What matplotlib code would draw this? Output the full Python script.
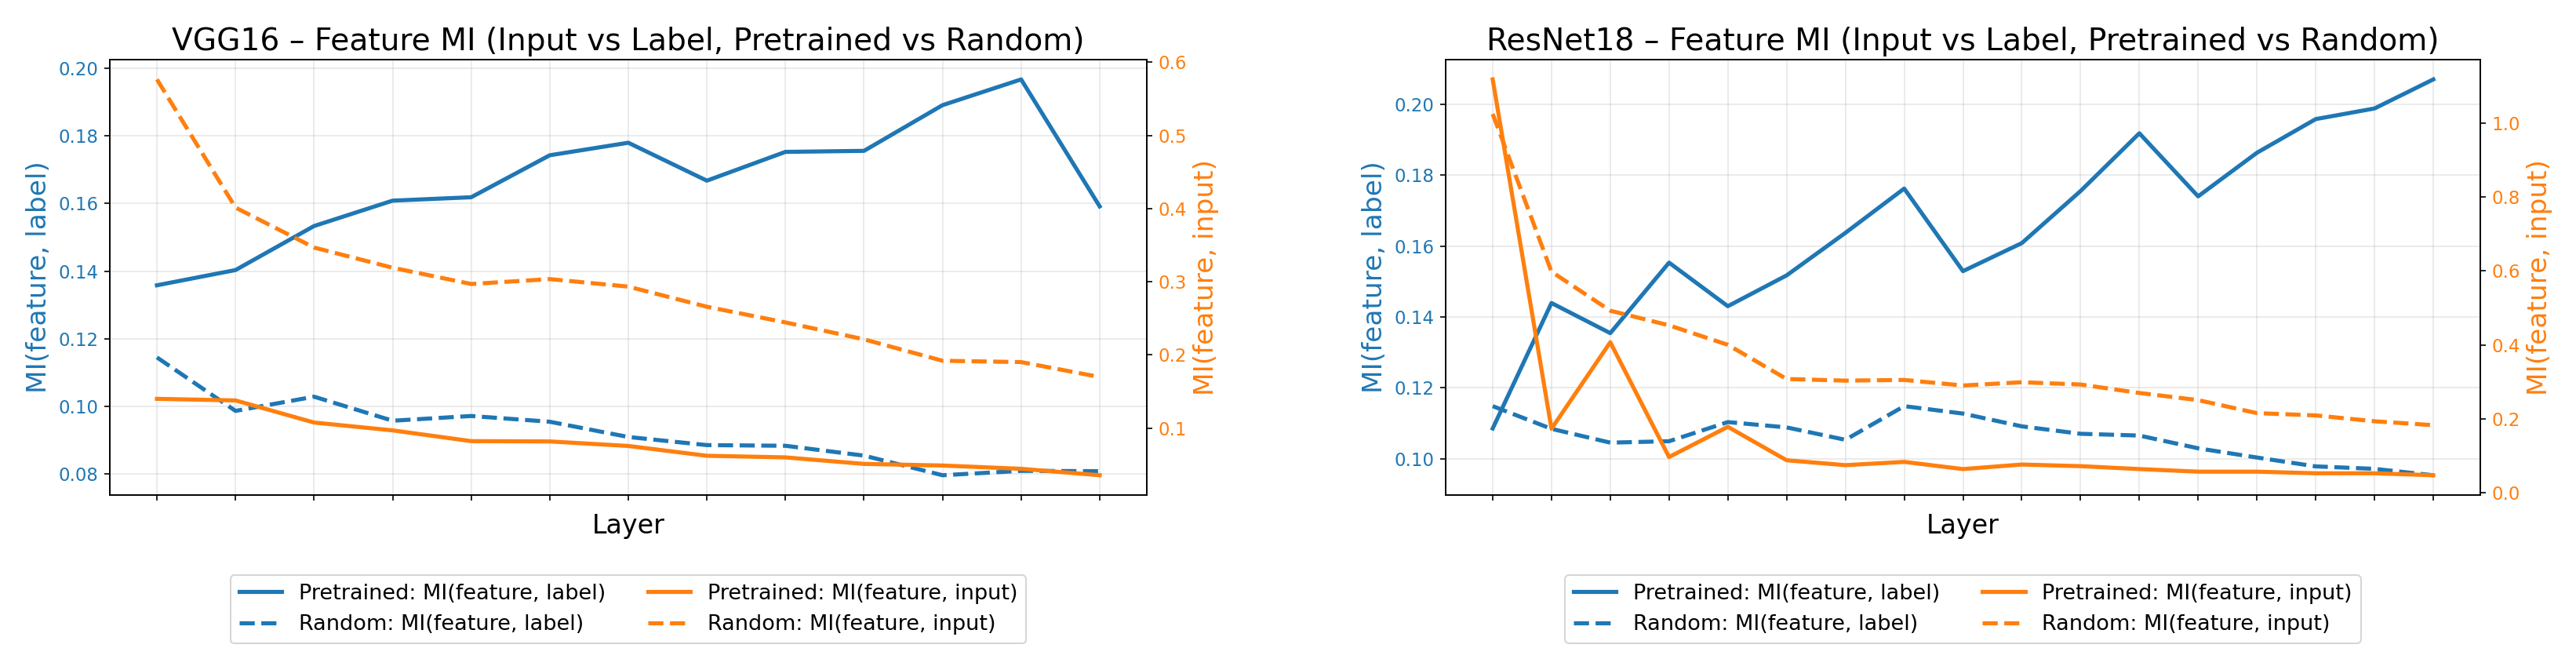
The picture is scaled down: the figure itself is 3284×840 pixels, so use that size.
import numpy as np
import matplotlib
matplotlib.use('Agg')
import matplotlib.pyplot as plt

# VGG16 (13 layers)
vgg_pre_label = [0.1358, 0.1403, 0.1533, 0.1608, 0.1618, 0.1742, 0.1779,
                 0.1667, 0.1752, 0.1755, 0.1890, 0.1966, 0.1591]
vgg_rand_label = [0.1145, 0.0987, 0.1029, 0.0958, 0.0972, 0.0955, 0.0910,
                  0.0886, 0.0884, 0.0855, 0.0797, 0.0810, 0.0809]
vgg_pre_input = [0.140, 0.1378, 0.1076, 0.0969, 0.0822, 0.0818, 0.0756,
                 0.0622, 0.0600, 0.0511, 0.0489, 0.0444, 0.0356]
vgg_rand_input = [0.5764, 0.4013, 0.3467, 0.3191, 0.2969, 0.3036, 0.2933,
                  0.2658, 0.2444, 0.2213, 0.1920, 0.1902, 0.1698]

# ResNet18 (17 layers)
res_pre_label = [0.1085, 0.1439, 0.1354, 0.1553, 0.1430, 0.1517, 0.1637, 0.1762,
                 0.1529, 0.1608, 0.1755, 0.1918, 0.1740, 0.1863, 0.1958, 0.1988, 0.2070]
res_rand_label = [0.1148, 0.1084, 0.1045, 0.1049, 0.1103, 0.1088, 0.1053, 0.1148,
                  0.1127, 0.1091, 0.1070, 0.1065, 0.1029, 0.1003, 0.0978, 0.0971, 0.0953]
res_pre_input = [1.118, 0.1733, 0.4072, 0.0967, 0.1785, 0.0880, 0.0748, 0.0836,
                 0.0642, 0.0765, 0.0721, 0.0642, 0.0572, 0.0572, 0.0528, 0.0528, 0.0475]
res_rand_input = [1.0246, 0.598, 0.4925, 0.4529, 0.4002, 0.3078, 0.3034, 0.3052,
                  0.2902, 0.2990, 0.2929, 0.2700, 0.2507, 0.2155, 0.2093, 0.1935, 0.1829]

titles = ['VGG16 – Feature MI (Input vs Label, Pretrained vs Random)',
          'ResNet18 – Feature MI (Input vs Label, Pretrained vs Random)']

c_label = '#1f77b4'
c_input = '#ff7f0e'

W, H = 3284, 840
fig = plt.figure(figsize=(W/150, H/150), dpi=150)

boxes = [[140, 1462], [1843, 3162]]
top, bot = 76, 631

data = [(vgg_pre_label, vgg_rand_label, vgg_pre_input, vgg_rand_input),
        (res_pre_label, res_rand_label, res_pre_input, res_rand_input)]

for k in range(2):
    x0, x1 = boxes[k]
    ax = fig.add_axes([x0/W, 1-bot/H, (x1-x0)/W, (bot-top)/H])
    pl, rl, pi_, ri = data[k]
    x = np.arange(len(pl))

    l1, = ax.plot(x, pl, color=c_label, lw=2.5, label='Pretrained: MI(feature, label)')
    l2, = ax.plot(x, rl, color=c_label, lw=2.5, ls='--', label='Random: MI(feature, label)')
    ax.set_ylabel('MI(feature, label)', color=c_label, fontsize=16.5)
    ax.tick_params(axis='y', labelcolor=c_label, labelsize=11)
    ax.set_xticks(x)
    ax.set_xticklabels(['']*len(x))
    ax.set_xlabel('Layer', fontsize=16)
    ax.grid(True, alpha=0.3)

    ax2 = ax.twinx()
    l3, = ax2.plot(x, pi_, color=c_input, lw=2.5, label='Pretrained: MI(feature, input)')
    l4, = ax2.plot(x, ri, color=c_input, lw=2.5, ls='--', label='Random: MI(feature, input)')
    ax2.set_ylabel('MI(feature, input)', color=c_input, fontsize=16.5)
    ax2.tick_params(axis='y', labelcolor=c_input, labelsize=11)

    ax.set_title(titles[k], fontsize=18.8)

    lines = [l1, l2, l3, l4]
    ax.legend(lines, [l.get_label() for l in lines], loc='upper center',
              bbox_to_anchor=(0.5, -0.184), borderaxespad=0, ncol=2, fontsize=13)

plt.savefig('out.png', dpi=150)
